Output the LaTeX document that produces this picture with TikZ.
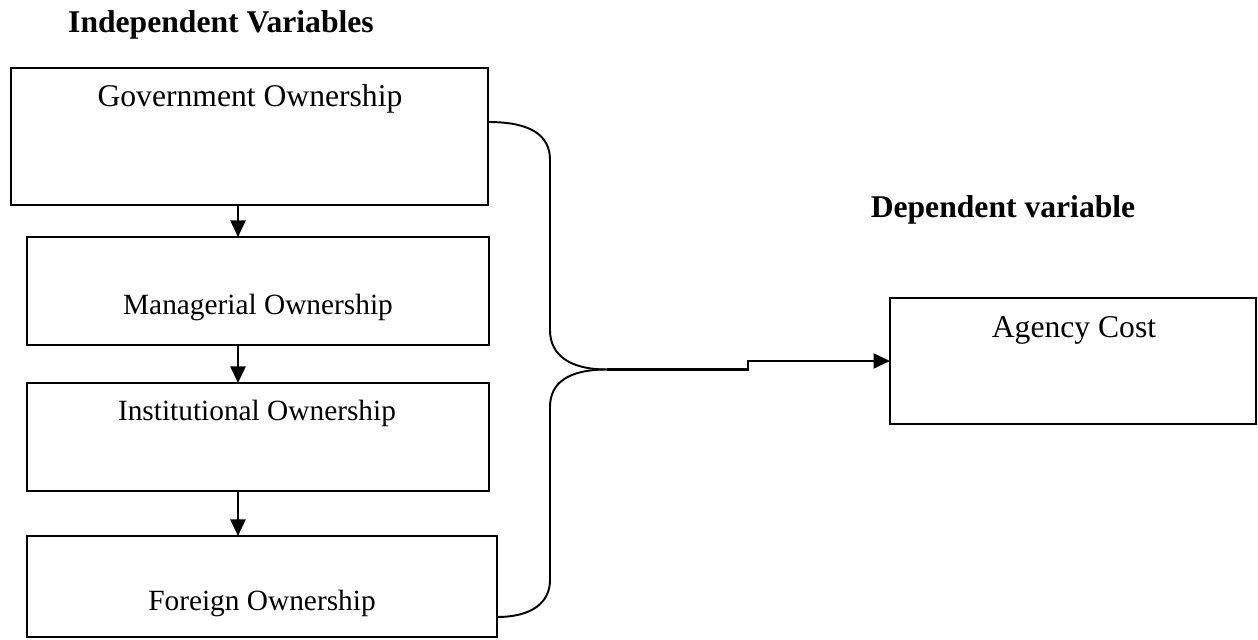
\documentclass[tikz,border=0pt]{standalone}
\usepackage{fontspec}
\setmainfont{Liberation Serif}
\usetikzlibrary{arrows.meta, positioning, calc}
\tikzset{
  every picture/.style={line width=1.1pt},
  varbox/.style={draw=black, inner sep=0pt, outer sep=0pt},
  arrow/.style={-{Triangle[length=0.33cm, width=0.3cm]}, draw=black, line width=1.3pt},
  title/.style={font=\fontsize{18}{22}\selectfont\bfseries},
  big/.style={font=\fontsize{18}{22}\selectfont},
  small/.style={font=\fontsize{16.7}{20}\selectfont},
}

\begin{document}
\begin{tikzpicture}
  \useasboundingbox (0,0) rectangle (25.16,-12.8);
  % titles
  \node[title] (indep) at (4.42,-0.5) {Independent Variables};
  \node[title] (dep) at (20.06,-4.2) {Dependent variable};
  % the four ownership boxes
  \node[varbox, minimum width=9.54cm, minimum height=2.74cm] (gov) at (4.99,-2.73) {};
  \node[varbox, minimum width=9.24cm, minimum height=2.16cm] (mgr) at (5.16,-5.82) {};
  \node[varbox, minimum width=9.24cm, minimum height=2.16cm] (inst) at (5.16,-8.74) {};
  \node[varbox, minimum width=9.4cm, minimum height=2.02cm] (forn) at (5.24,-11.73) {};
  \node[big] (govtxt) at (5.0,-1.98) {Government Ownership};
  \node[small] (mgrtxt) at (5.16,-6.14) {Managerial Ownership};
  \node[small] (insttxt) at (5.14,-8.26) {Institutional Ownership};
  \node[small] (forntxt) at (5.24,-12.06) {Foreign Ownership};
  % agency cost
  \node[varbox, minimum width=7.32cm, minimum height=2.52cm] (agency) at (21.46,-7.22) {};
  \node[big] (agencytxt) at (21.48,-6.6) {Agency Cost};
  % arrows down the column
  \draw[arrow] ([xshift=-0.23cm]gov.south) -- ([xshift=-0.4cm]mgr.north);
  \draw[arrow] ([xshift=-0.4cm]mgr.south) -- ([xshift=-0.4cm]inst.north);
  \draw[arrow] ([xshift=-0.4cm]inst.south) -- ([xshift=-0.48cm]forn.north);
  % brace
  \coordinate (tip) at (12.14,-7.39);
  \draw ([yshift=0.29cm]gov.east) .. controls +(0.85,0) and +(0,0.5) .. ++(1.24,-0.76)
    -- (11.0,-6.6) .. controls +(0,-0.5) and +(-0.75,0) .. (tip);
  \draw ([yshift=-0.61cm]forn.east) .. controls +(0.7,0) and +(0,-0.45) .. ++(1.06,0.74)
    -- (11.0,-8.14) .. controls +(0,0.5) and +(-0.75,0) .. (tip);
  \draw[arrow] (tip) -- ++(2.82,0) |- (agency.west);
\end{tikzpicture}
\end{document}
